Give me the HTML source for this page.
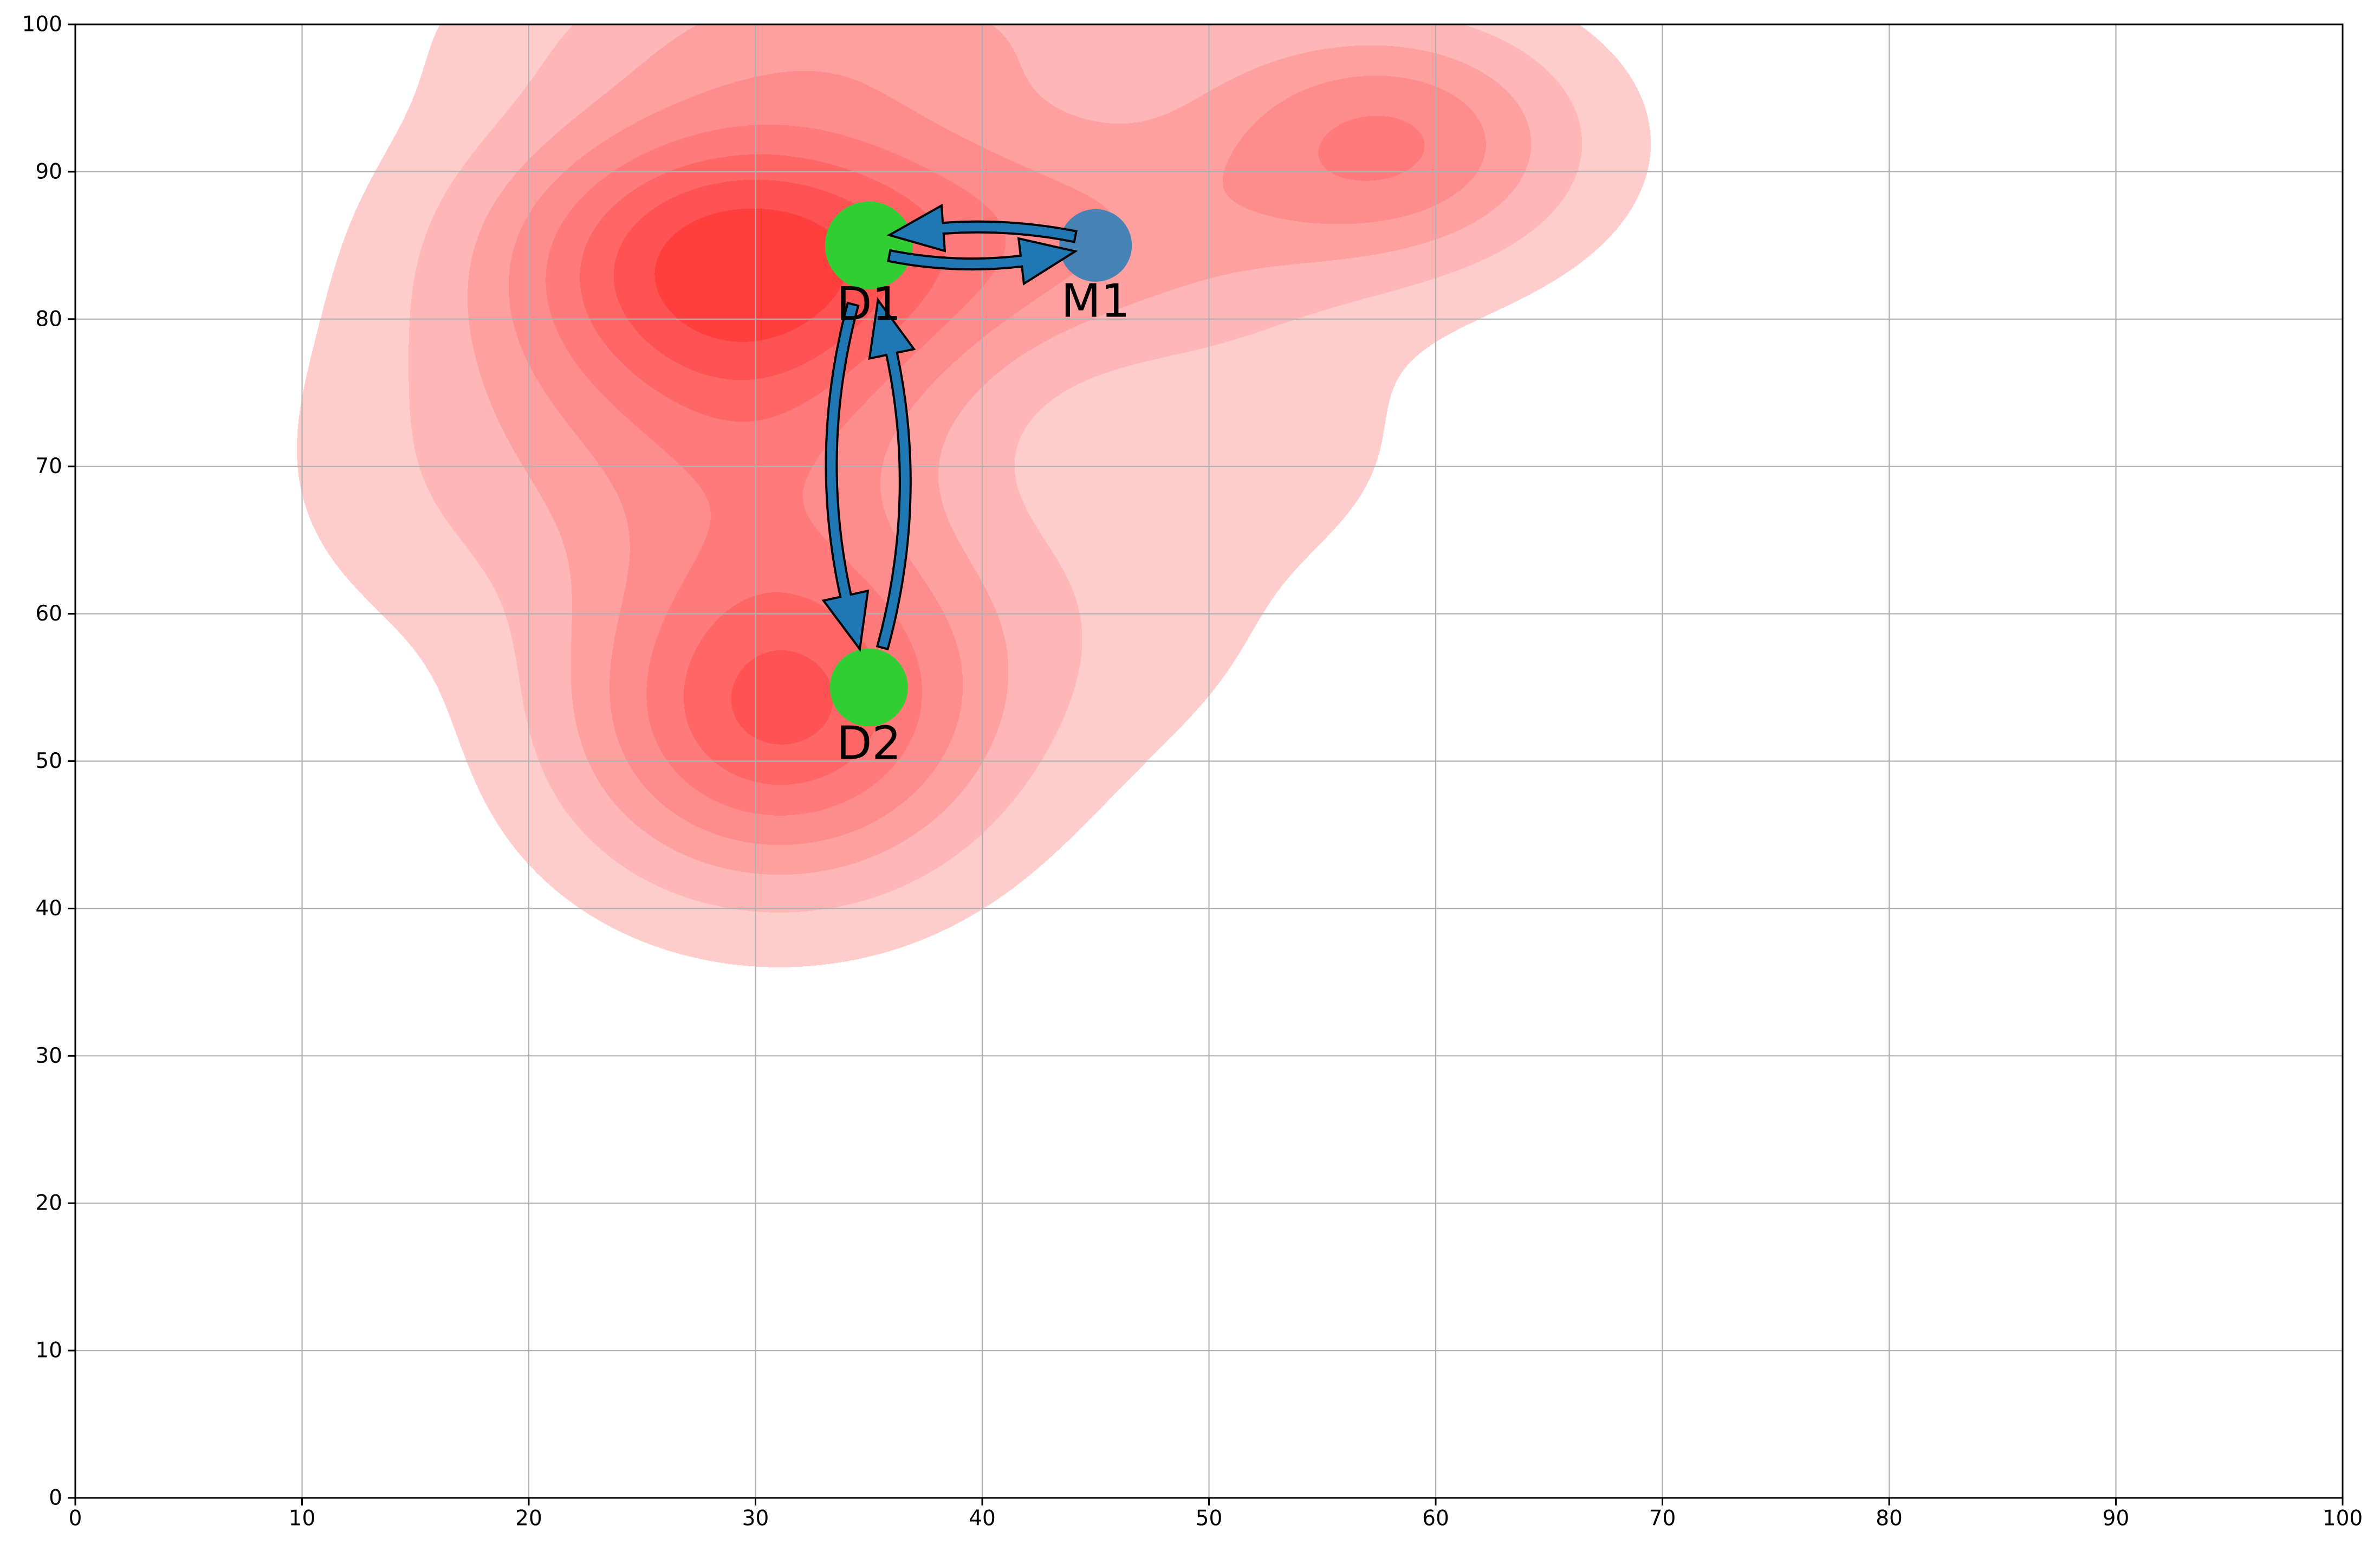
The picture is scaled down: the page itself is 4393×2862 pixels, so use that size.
<!DOCTYPE html>
<html><head><meta charset="utf-8">
<style>
html,body{margin:0;padding:0;background:#fff;}
#wrap{position:relative;width:4393px;height:2862px;overflow:hidden;}
canvas{position:absolute;left:139px;top:45px;}
svg{position:absolute;left:0;top:0;}
text{font-family:"DejaVu Sans","Liberation Sans",sans-serif;}
</style></head>
<body>
<div id="wrap">
<canvas id="kde" width="4185" height="2719"></canvas>
<svg id="svg" width="4393" height="2862"></svg>
</div>
<script>
// ---- data ----
const xTicks = [0,10,20,30,40,50,60,70,80,90,100];
const yTicks = [0,10,20,30,40,50,60,70,80,90,100];
const kdeCx = [29, 31, 58, 44, 18, 42, 35, 30, 53];
const kdeCy = [84, 53, 92, 86, 70, 60, 100, 70, 72];
const kdeW  = [1.0, 0.82, 0.55, 0.35, 0.15, 0.12, 0.3, 0.38, 0.08];
const kdeSx = [7, 6, 5.5, 8, 6, 8, 10, 6, 5];
const kdeSy = [7, 7.5, 5.5, 6, 8, 8, 5, 8, 6];
const levelFrac = [0.055, 0.15, 0.26, 0.37, 0.49, 0.61, 0.73, 0.86];
const levelGB = [204, 182, 160, 140, 122, 102, 82, 62];
const nodeNames = ["D1","D2","M1"];
const nodeX = [35, 35, 45];
const nodeY = [85, 55, 85];
const nodeColor = ["#32cd32","#32cd32","#4682b4"];
const nodeR = [81, 72, 67];
const labelY = [81, 51.2, 81.2];
const arrowFromX = [35.9, 44.1, 34.3, 35.6];
const arrowFromY = [84.3, 85.6, 81.0, 57.7];
const arrowToX = [44.1, 35.9, 34.6, 35.4];
const arrowToY = [84.6, 85.7, 57.6, 81.3];
const arrowBendX = [0, 0, -1.1, 1.1];
const arrowBendY = [-0.7, 0.6, 0, 0];

// ---- axes ----
const L=139, R=4324, T=45, B=2764;
const X = v => L + v*(R-L)/100;
const Y = v => B - v*(B-T)/100;
const NS="http://www.w3.org/2000/svg";
const svg=document.getElementById('svg');
function mk(tag, attrs, parent){const e=document.createElementNS(NS,tag);for(const k in attrs)e.setAttribute(k,attrs[k]);(parent||svg).appendChild(e);return e;}

// ---- KDE raster ----
(function(){
  const cv=document.getElementById('kde');const W=cv.width,H=cv.height;
  const ctx=cv.getContext('2d');const img=ctx.createImageData(W,H);const d=img.data;
  const n=kdeCx.length;
  const ex=[],ey=[];
  for(let k=0;k<n;k++){
    const a=new Float32Array(W),b=new Float32Array(H);
    for(let i=0;i<W;i++){const v=(i+0.5)/W*100;const t=(v-kdeCx[k])/kdeSx[k];a[i]=Math.exp(-0.5*t*t);}
    for(let j=0;j<H;j++){const v=100-(j+0.5)/H*100;const t=(v-kdeCy[k])/kdeSy[k];b[j]=kdeW[k]*Math.exp(-0.5*t*t);}
    ex.push(a);ey.push(b);
  }
  const dens=new Float32Array(W*H);let mx=0;
  for(let j=0;j<H;j++){for(let i=0;i<W;i++){let s=0;for(let k=0;k<n;k++)s+=ex[k][i]*ey[k][j];dens[j*W+i]=s;if(s>mx)mx=s;}}
  for(let p=0;p<W*H;p++){
    const f=dens[p]/mx;let lv=-1;
    for(let q=0;q<levelFrac.length;q++){if(f>=levelFrac[q])lv=q;}
    const o=p*4;
    if(lv<0){d[o]=255;d[o+1]=255;d[o+2]=255;}else{d[o]=255;d[o+1]=levelGB[lv];d[o+2]=levelGB[lv];}
    d[o+3]=255;
  }
  ctx.putImageData(img,0,0);
})();

// ---- grid ----
xTicks.forEach(v=>{const g=mk('line',{x1:X(v),x2:X(v),y1:T,y2:B,stroke:'#b0b0b0','stroke-width':2.2});
});
yTicks.forEach(v=>{const g=mk('line',{x1:L,x2:R,y1:Y(v),y2:Y(v),stroke:'#b0b0b0','stroke-width':2.2});
});

// ---- nodes ----
for(let i=0;i<nodeNames.length;i++){
  const c=mk('circle',{cx:X(nodeX[i]),cy:Y(nodeY[i]),r:nodeR[i],fill:nodeColor[i]});
  
  
}

// ---- arrows ----
function arrow(x0,y0,cx,cy,x1,y1){
  const pts=[];const N=200;
  for(let s=0;s<=N;s++){const t=s/N;const u=1-t;pts.push([u*u*x0+2*u*t*cx+t*t*x1,u*u*y0+2*u*t*cy+t*t*y1]);}
  const len=[0];for(let s=1;s<=N;s++){len.push(len[s-1]+Math.hypot(pts[s][0]-pts[s-1][0],pts[s][1]-pts[s-1][1]));}
  const Ltot=len[N];const hl=Math.min(100,Ltot*0.45);const w=10,hw=42;
  let hb=N;while(hb>0&&len[hb]>Ltot-hl)hb--;
  const left=[],right=[];
  for(let s=0;s<=hb;s++){
    const a=pts[Math.max(0,s-1)],b=pts[Math.min(N,s+1)];
    let dx=b[0]-a[0],dy=b[1]-a[1];const m=Math.hypot(dx,dy);dx/=m;dy/=m;
    left.push([pts[s][0]-dy*w,pts[s][1]+dx*w]);right.push([pts[s][0]+dy*w,pts[s][1]-dx*w]);
  }
  const a=pts[Math.max(0,hb-1)],b=pts[hb+1];let dx=b[0]-a[0],dy=b[1]-a[1];const m=Math.hypot(dx,dy);dx/=m;dy/=m;
  const hp=pts[hb];
  const poly=[...left,[hp[0]-dy*hw,hp[1]+dx*hw],pts[N],[hp[0]+dy*hw,hp[1]-dx*hw],...right.reverse()];
  return 'M'+poly.map(p=>p[0].toFixed(1)+','+p[1].toFixed(1)).join('L')+'Z';
}
for(let i=0;i<arrowFromX.length;i++){
  const x0=X(arrowFromX[i]),y0=Y(arrowFromY[i]),x1=X(arrowToX[i]),y1=Y(arrowToY[i]);
  const mxp=X((arrowFromX[i]+arrowToX[i])/2+2*arrowBendX[i]);
  const myp=Y((arrowFromY[i]+arrowToY[i])/2+2*arrowBendY[i]);
  const p=mk('path',{d:arrow(x0,y0,mxp,myp,x1,y1),fill:'#1f77b4',stroke:'#000','stroke-width':4,'stroke-linejoin':'miter'});
  
  
}

// ---- node labels ----
for(let i=0;i<nodeNames.length;i++){
  const t=mk('text',{x:X(nodeX[i]),y:Y(labelY[i]),'font-size':85,'text-anchor':'middle','dominant-baseline':'central',fill:'#000'});
  t.textContent=nodeNames[i];
  
  
}

// ---- axes frame & ticks ----
const fr=mk('rect',{x:L,y:T,width:R-L,height:B-T,fill:'none',stroke:'#000','stroke-width':3});

xTicks.forEach(v=>{
  const tk=mk('line',{x1:X(v),x2:X(v),y1:B,y2:B+14,stroke:'#000','stroke-width':3});
  
  const t=mk('text',{x:X(v),y:B+38,'font-size':39,'text-anchor':'middle','dominant-baseline':'central'});
  t.textContent=v;
});
yTicks.forEach(v=>{
  const tk=mk('line',{x1:L-14,x2:L,y1:Y(v),y2:Y(v),stroke:'#000','stroke-width':3});
  
  const t=mk('text',{x:L-24,y:Y(v),'font-size':39,'text-anchor':'end','dominant-baseline':'central'});
  t.textContent=v;
});
</script>
</body></html>
